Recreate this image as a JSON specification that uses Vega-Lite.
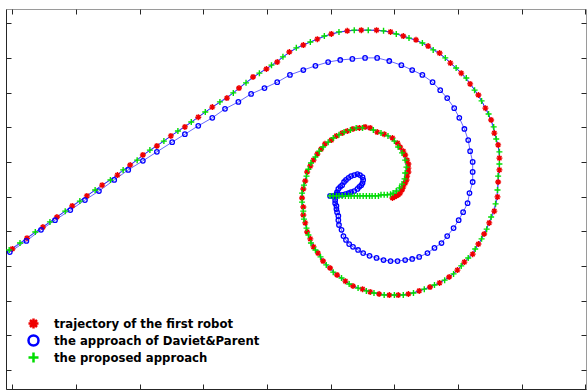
{
  "$schema": "https://vega.github.io/schema/vega-lite/v6.json",
  "width": 580,
  "height": 380,
  "autosize": {"type": "none"},
  "padding": {"left": 6, "top": 9, "right": 1, "bottom": 3},
  "background": "white",
  "config": {
    "view": {"stroke": "#9a9a9a", "strokeWidth": 1},
    "axis": {"labels": false, "grid": false, "tickSize": -5, "tickColor": "#262626", "tickWidth": 1, "domainColor": "#262626", "domainWidth": 1}
  },
  "data": {"values": [
    {"s":"r","i":1,"x":59.7,"y":49.6},{"s":"r","i":2,"x":60.0,"y":49.9},{"s":"r","i":3,"x":60.3,"y":50.2},{"s":"r","i":4,"x":60.6,"y":50.5},{"s":"r","i":5,"x":60.9,"y":51.0},{"s":"r","i":6,"x":61.2,"y":51.9},{"s":"r","i":7,"x":61.4,"y":52.8},{"s":"r","i":8,"x":61.7,"y":53.9},{"s":"r","i":9,"x":61.9,"y":54.8},{"s":"r","i":10,"x":62.0,"y":55.9},
    {"s":"r","i":11,"x":62.2,"y":57.1},{"s":"r","i":12,"x":62.2,"y":58.2},{"s":"r","i":13,"x":62.2,"y":59.4},{"s":"r","i":14,"x":62.0,"y":60.5},{"s":"r","i":15,"x":61.7,"y":62.0},{"s":"r","i":16,"x":61.4,"y":63.1},{"s":"r","i":17,"x":60.9,"y":64.3},{"s":"r","i":18,"x":60.5,"y":65.4},{"s":"r","i":19,"x":59.7,"y":66.9},{"s":"r","i":20,"x":58.4,"y":68.0},
    {"s":"r","i":21,"x":57.3,"y":68.6},{"s":"r","i":22,"x":56.2,"y":69.8},{"s":"r","i":23,"x":55.4,"y":70.1},{"s":"r","i":24,"x":54.5,"y":69.8},{"s":"r","i":25,"x":53.5,"y":69.5},{"s":"r","i":26,"x":52.6,"y":68.9},{"s":"r","i":27,"x":51.8,"y":68.3},{"s":"r","i":28,"x":50.9,"y":67.5},{"s":"r","i":29,"x":50.1,"y":66.3},{"s":"r","i":30,"x":49.1,"y":65.2},
    {"s":"r","i":31,"x":48.5,"y":63.7},{"s":"r","i":32,"x":47.9,"y":62.3},{"s":"r","i":33,"x":47.3,"y":60.5},{"s":"r","i":34,"x":46.8,"y":58.8},{"s":"r","i":35,"x":46.3,"y":57.1},{"s":"r","i":36,"x":46.0,"y":54.5},{"s":"r","i":37,"x":45.7,"y":52.2},{"s":"r","i":38,"x":45.5,"y":49.6},{"s":"r","i":39,"x":45.7,"y":47.0},{"s":"r","i":40,"x":45.7,"y":44.7},
    {"s":"r","i":41,"x":46.0,"y":42.4},{"s":"r","i":42,"x":46.3,"y":39.8},{"s":"r","i":43,"x":46.8,"y":37.8},{"s":"r","i":44,"x":47.3,"y":35.5},{"s":"r","i":45,"x":48.0,"y":33.7},{"s":"r","i":46,"x":48.8,"y":31.4},{"s":"r","i":47,"x":49.9,"y":29.4},{"s":"r","i":48,"x":51.0,"y":27.4},{"s":"r","i":49,"x":52.3,"y":25.6},{"s":"r","i":50,"x":53.5,"y":24.2},
    {"s":"r","i":51,"x":55.0,"y":23.3},{"s":"r","i":52,"x":56.2,"y":22.5},{"s":"r","i":53,"x":57.6,"y":21.9},{"s":"r","i":54,"x":59.2,"y":21.6},{"s":"r","i":55,"x":60.6,"y":21.6},{"s":"r","i":56,"x":62.2,"y":21.9},{"s":"r","i":57,"x":63.9,"y":22.8},{"s":"r","i":58,"x":65.6,"y":23.9},{"s":"r","i":59,"x":67.1,"y":25.1},{"s":"r","i":60,"x":68.6,"y":26.8},
    {"s":"r","i":61,"x":69.9,"y":28.8},{"s":"r","i":62,"x":71.0,"y":31.1},{"s":"r","i":63,"x":72.3,"y":33.4},{"s":"r","i":64,"x":73.2,"y":36.3},{"s":"r","i":65,"x":74.1,"y":39.2},{"s":"r","i":66,"x":74.9,"y":42.4},{"s":"r","i":67,"x":75.7,"y":45.8},{"s":"r","i":68,"x":76.2,"y":49.9},{"s":"r","i":69,"x":76.3,"y":54.2},{"s":"r","i":70,"x":76.5,"y":57.7},
    {"s":"r","i":71,"x":76.5,"y":61.1},{"s":"r","i":72,"x":76.3,"y":64.9},{"s":"r","i":73,"x":75.7,"y":68.3},{"s":"r","i":74,"x":75.2,"y":72.1},{"s":"r","i":75,"x":74.3,"y":75.5},{"s":"r","i":76,"x":73.2,"y":79.3},{"s":"r","i":77,"x":71.9,"y":82.5},{"s":"r","i":78,"x":70.5,"y":85.6},{"s":"r","i":79,"x":68.8,"y":88.5},{"s":"r","i":80,"x":67.1,"y":91.4},
    {"s":"r","i":81,"x":65.3,"y":93.4},{"s":"r","i":82,"x":63.4,"y":95.2},{"s":"r","i":83,"x":61.4,"y":96.3},{"s":"r","i":84,"x":59.4,"y":97.5},{"s":"r","i":85,"x":57.2,"y":98.0},{"s":"r","i":86,"x":54.8,"y":98.0},{"s":"r","i":87,"x":52.6,"y":97.8},{"s":"r","i":88,"x":50.1,"y":96.9},{"s":"r","i":89,"x":47.9,"y":95.4},{"s":"r","i":90,"x":45.7,"y":93.7},
    {"s":"r","i":91,"x":43.5,"y":91.7},{"s":"r","i":92,"x":41.6,"y":88.8},{"s":"r","i":93,"x":39.9,"y":86.8},{"s":"r","i":94,"x":37.8,"y":84.5},{"s":"r","i":95,"x":35.6,"y":81.3},{"s":"r","i":96,"x":33.7,"y":78.4},{"s":"r","i":97,"x":31.4,"y":75.8},{"s":"r","i":98,"x":29.2,"y":72.9},{"s":"r","i":99,"x":27.1,"y":70.1},{"s":"r","i":100,"x":24.9,"y":67.5},
    {"s":"r","i":101,"x":22.7,"y":64.6},{"s":"r","i":102,"x":20.5,"y":62.0},{"s":"r","i":103,"x":18.5,"y":59.1},{"s":"r","i":104,"x":16.5,"y":56.2},{"s":"r","i":105,"x":14.1,"y":53.3},{"s":"r","i":106,"x":11.7,"y":50.2},{"s":"r","i":107,"x":9.4,"y":47.3},{"s":"r","i":108,"x":7.0,"y":44.1},{"s":"r","i":109,"x":4.8,"y":41.2},{"s":"r","i":110,"x":2.3,"y":38.0},{"s":"r","i":111,"x":0.0,"y":34.9},

    {"s":"b","i":1,"x":49.9,"y":50.2},{"s":"b","i":2,"x":50.4,"y":50.2},{"s":"b","i":3,"x":50.9,"y":50.5},{"s":"b","i":4,"x":51.3,"y":50.5},{"s":"b","i":5,"x":51.8,"y":50.5},{"s":"b","i":6,"x":52.3,"y":50.7},{"s":"b","i":7,"x":52.8,"y":51.0},{"s":"b","i":8,"x":53.2,"y":51.3},{"s":"b","i":9,"x":53.7,"y":51.6},{"s":"b","i":10,"x":54.2,"y":52.2},
    {"s":"b","i":11,"x":54.5,"y":52.8},{"s":"b","i":12,"x":54.8,"y":53.3},{"s":"b","i":13,"x":55.0,"y":53.9},{"s":"b","i":14,"x":55.1,"y":54.8},{"s":"b","i":15,"x":55.0,"y":55.6},{"s":"b","i":16,"x":54.6,"y":56.2},{"s":"b","i":17,"x":54.2,"y":56.5},{"s":"b","i":18,"x":53.7,"y":56.2},{"s":"b","i":19,"x":53.2,"y":55.9},{"s":"b","i":20,"x":52.8,"y":55.4},
    {"s":"b","i":21,"x":52.4,"y":54.8},{"s":"b","i":22,"x":52.1,"y":54.2},{"s":"b","i":23,"x":51.8,"y":53.3},{"s":"b","i":24,"x":51.5,"y":52.8},{"s":"b","i":25,"x":51.2,"y":52.2},{"s":"b","i":26,"x":51.0,"y":51.3},{"s":"b","i":27,"x":50.9,"y":50.7},{"s":"b","i":28,"x":50.7,"y":49.9},{"s":"b","i":29,"x":50.7,"y":49.0},{"s":"b","i":30,"x":50.7,"y":48.1},
    {"s":"b","i":31,"x":50.9,"y":47.3},{"s":"b","i":32,"x":50.9,"y":46.4},{"s":"b","i":33,"x":51.0,"y":45.5},{"s":"b","i":34,"x":51.2,"y":44.4},{"s":"b","i":35,"x":51.2,"y":43.2},{"s":"b","i":36,"x":51.3,"y":41.8},{"s":"b","i":37,"x":51.7,"y":40.4},{"s":"b","i":38,"x":52.0,"y":38.6},{"s":"b","i":39,"x":52.4,"y":37.5},{"s":"b","i":40,"x":52.9,"y":36.3},
    {"s":"b","i":41,"x":53.5,"y":35.5},{"s":"b","i":42,"x":54.3,"y":34.6},{"s":"b","i":43,"x":55.1,"y":33.7},{"s":"b","i":44,"x":56.1,"y":32.9},{"s":"b","i":45,"x":57.2,"y":32.3},{"s":"b","i":46,"x":58.3,"y":31.7},{"s":"b","i":47,"x":59.4,"y":31.4},{"s":"b","i":48,"x":60.5,"y":31.4},{"s":"b","i":49,"x":61.7,"y":31.7},{"s":"b","i":50,"x":62.8,"y":32.0},
    {"s":"b","i":51,"x":63.9,"y":32.6},{"s":"b","i":52,"x":65.2,"y":33.7},{"s":"b","i":53,"x":66.3,"y":35.2},{"s":"b","i":54,"x":67.4,"y":36.6},{"s":"b","i":55,"x":68.3,"y":38.6},{"s":"b","i":56,"x":69.3,"y":40.9},{"s":"b","i":57,"x":70.1,"y":43.2},{"s":"b","i":58,"x":70.8,"y":45.5},{"s":"b","i":59,"x":71.5,"y":48.1},{"s":"b","i":60,"x":71.8,"y":51.0},
    {"s":"b","i":61,"x":72.3,"y":54.2},{"s":"b","i":62,"x":72.3,"y":57.1},{"s":"b","i":63,"x":72.3,"y":60.0},{"s":"b","i":64,"x":71.9,"y":63.1},{"s":"b","i":65,"x":71.6,"y":66.3},{"s":"b","i":66,"x":71.0,"y":69.5},{"s":"b","i":67,"x":70.2,"y":72.7},{"s":"b","i":68,"x":69.4,"y":75.5},{"s":"b","i":69,"x":68.3,"y":78.4},{"s":"b","i":70,"x":67.2,"y":80.7},
    {"s":"b","i":71,"x":66.0,"y":83.0},{"s":"b","i":72,"x":64.4,"y":85.1},{"s":"b","i":73,"x":62.8,"y":86.5},{"s":"b","i":74,"x":61.1,"y":87.9},{"s":"b","i":75,"x":59.2,"y":89.1},{"s":"b","i":76,"x":57.3,"y":90.0},{"s":"b","i":77,"x":55.4,"y":90.0},{"s":"b","i":78,"x":53.4,"y":89.7},{"s":"b","i":79,"x":51.5,"y":89.4},{"s":"b","i":80,"x":49.6,"y":88.8},
    {"s":"b","i":81,"x":47.6,"y":87.7},{"s":"b","i":82,"x":45.7,"y":86.5},{"s":"b","i":83,"x":43.6,"y":85.1},{"s":"b","i":84,"x":41.6,"y":83.0},{"s":"b","i":85,"x":39.6,"y":81.3},{"s":"b","i":86,"x":37.5,"y":79.6},{"s":"b","i":87,"x":35.5,"y":77.3},{"s":"b","i":88,"x":33.4,"y":75.3},{"s":"b","i":89,"x":31.4,"y":72.7},{"s":"b","i":90,"x":29.2,"y":70.4},
    {"s":"b","i":91,"x":27.1,"y":68.0},{"s":"b","i":92,"x":25.1,"y":65.7},{"s":"b","i":93,"x":22.7,"y":62.9},{"s":"b","i":94,"x":20.5,"y":60.3},{"s":"b","i":95,"x":18.2,"y":57.7},{"s":"b","i":96,"x":16.0,"y":54.8},{"s":"b","i":97,"x":13.6,"y":51.6},{"s":"b","i":98,"x":11.4,"y":49.0},{"s":"b","i":99,"x":9.1,"y":46.1},{"s":"b","i":100,"x":6.7,"y":43.2},
    {"s":"b","i":101,"x":4.5,"y":40.4},{"s":"b","i":102,"x":2.2,"y":37.2},{"s":"b","i":103,"x":-0.4,"y":34.0},

    {"s":"g","i":1,"x":49.9,"y":50.2},{"s":"g","i":2,"x":50.4,"y":50.2},{"s":"g","i":3,"x":50.9,"y":50.2},{"s":"g","i":4,"x":51.3,"y":50.2},{"s":"g","i":5,"x":51.8,"y":50.2},{"s":"g","i":6,"x":52.3,"y":50.2},{"s":"g","i":7,"x":52.8,"y":50.2},{"s":"g","i":8,"x":53.2,"y":50.2},{"s":"g","i":9,"x":53.7,"y":50.2},{"s":"g","i":10,"x":54.2,"y":50.2},
    {"s":"g","i":11,"x":54.6,"y":50.2},{"s":"g","i":12,"x":55.1,"y":50.2},{"s":"g","i":13,"x":55.6,"y":50.2},{"s":"g","i":14,"x":56.1,"y":50.2},{"s":"g","i":15,"x":56.5,"y":50.2},{"s":"g","i":16,"x":57.0,"y":50.2},{"s":"g","i":17,"x":57.5,"y":50.2},{"s":"g","i":18,"x":57.9,"y":50.5},{"s":"g","i":19,"x":58.4,"y":50.5},{"s":"g","i":20,"x":58.9,"y":50.5},
    {"s":"g","i":21,"x":59.4,"y":50.7},{"s":"g","i":22,"x":59.8,"y":51.0},{"s":"g","i":23,"x":60.3,"y":51.6},{"s":"g","i":24,"x":60.8,"y":52.5},{"s":"g","i":25,"x":61.2,"y":53.6},{"s":"g","i":26,"x":61.6,"y":55.1},{"s":"g","i":27,"x":61.7,"y":56.8},{"s":"g","i":28,"x":61.9,"y":58.5},{"s":"g","i":29,"x":61.7,"y":60.5},{"s":"g","i":30,"x":61.2,"y":62.6},
    {"s":"g","i":31,"x":60.6,"y":64.3},{"s":"g","i":32,"x":60.0,"y":66.0},{"s":"g","i":33,"x":59.0,"y":67.5},{"s":"g","i":34,"x":57.9,"y":68.3},{"s":"g","i":35,"x":56.7,"y":69.2},{"s":"g","i":36,"x":55.0,"y":69.8},{"s":"g","i":37,"x":54.0,"y":69.8},{"s":"g","i":38,"x":53.1,"y":69.2},{"s":"g","i":39,"x":52.1,"y":68.6},{"s":"g","i":40,"x":51.3,"y":67.8},
    {"s":"g","i":41,"x":50.4,"y":66.9},{"s":"g","i":42,"x":49.6,"y":65.7},{"s":"g","i":43,"x":48.8,"y":64.3},{"s":"g","i":44,"x":48.2,"y":63.1},{"s":"g","i":45,"x":47.6,"y":61.4},{"s":"g","i":46,"x":46.9,"y":59.7},{"s":"g","i":47,"x":46.5,"y":57.9},{"s":"g","i":48,"x":46.2,"y":55.9},{"s":"g","i":49,"x":45.8,"y":53.3},{"s":"g","i":50,"x":45.5,"y":51.0},
    {"s":"g","i":51,"x":45.5,"y":48.4},{"s":"g","i":52,"x":45.7,"y":45.8},{"s":"g","i":53,"x":45.8,"y":43.5},{"s":"g","i":54,"x":46.2,"y":40.9},{"s":"g","i":55,"x":46.5,"y":38.9},{"s":"g","i":56,"x":46.9,"y":36.6},{"s":"g","i":57,"x":47.6,"y":34.6},{"s":"g","i":58,"x":48.4,"y":32.6},{"s":"g","i":59,"x":49.3,"y":30.3},{"s":"g","i":60,"x":50.4,"y":28.2},
    {"s":"g","i":61,"x":51.7,"y":26.5},{"s":"g","i":62,"x":52.9,"y":24.8},{"s":"g","i":63,"x":54.3,"y":23.6},{"s":"g","i":64,"x":55.6,"y":22.8},{"s":"g","i":65,"x":56.8,"y":22.2},{"s":"g","i":66,"x":58.4,"y":21.6},{"s":"g","i":67,"x":60.0,"y":21.6},{"s":"g","i":68,"x":61.4,"y":21.6},{"s":"g","i":69,"x":63.0,"y":22.2},{"s":"g","i":70,"x":64.7,"y":23.3},
    {"s":"g","i":71,"x":66.3,"y":24.5},{"s":"g","i":72,"x":67.9,"y":25.9},{"s":"g","i":73,"x":69.3,"y":27.7},{"s":"g","i":74,"x":70.5,"y":30.0},{"s":"g","i":75,"x":71.6,"y":32.3},{"s":"g","i":76,"x":72.7,"y":34.9},{"s":"g","i":77,"x":73.7,"y":37.8},{"s":"g","i":78,"x":74.5,"y":40.6},{"s":"g","i":79,"x":75.2,"y":44.1},{"s":"g","i":80,"x":75.9,"y":47.9},
    {"s":"g","i":81,"x":76.2,"y":51.9},{"s":"g","i":82,"x":76.3,"y":55.9},{"s":"g","i":83,"x":76.5,"y":59.4},{"s":"g","i":84,"x":76.5,"y":62.9},{"s":"g","i":85,"x":76.0,"y":66.6},{"s":"g","i":86,"x":75.6,"y":70.1},{"s":"g","i":87,"x":74.8,"y":73.8},{"s":"g","i":88,"x":73.7,"y":77.6},{"s":"g","i":89,"x":72.6,"y":80.7},{"s":"g","i":90,"x":71.3,"y":84.2},
    {"s":"g","i":91,"x":69.7,"y":87.1},{"s":"g","i":92,"x":68.0,"y":90.0},{"s":"g","i":93,"x":66.1,"y":92.3},{"s":"g","i":94,"x":64.4,"y":94.3},{"s":"g","i":95,"x":62.3,"y":95.7},{"s":"g","i":96,"x":60.3,"y":96.9},{"s":"g","i":97,"x":58.3,"y":97.8},{"s":"g","i":98,"x":55.9,"y":98.0},{"s":"g","i":99,"x":53.7,"y":98.0},{"s":"g","i":100,"x":51.3,"y":97.5},
    {"s":"g","i":101,"x":49.0,"y":96.3},{"s":"g","i":102,"x":46.8,"y":94.6},{"s":"g","i":103,"x":44.6,"y":92.9},{"s":"g","i":104,"x":42.5,"y":90.3},{"s":"g","i":105,"x":40.7,"y":87.9},{"s":"g","i":106,"x":38.8,"y":85.6},{"s":"g","i":107,"x":36.7,"y":82.8},{"s":"g","i":108,"x":34.7,"y":79.9},{"s":"g","i":109,"x":32.6,"y":77.3},{"s":"g","i":110,"x":30.3,"y":74.4},
    {"s":"g","i":111,"x":28.1,"y":71.5},{"s":"g","i":112,"x":26.0,"y":68.9},{"s":"g","i":113,"x":23.8,"y":66.0},{"s":"g","i":114,"x":21.6,"y":63.4},{"s":"g","i":115,"x":19.6,"y":60.5},{"s":"g","i":116,"x":17.4,"y":57.7},{"s":"g","i":117,"x":15.4,"y":54.8},{"s":"g","i":118,"x":13.0,"y":51.9},{"s":"g","i":119,"x":10.6,"y":48.7},{"s":"g","i":120,"x":8.3,"y":45.8},
    {"s":"g","i":121,"x":5.9,"y":42.7},{"s":"g","i":122,"x":3.6,"y":39.8},{"s":"g","i":123,"x":1.2,"y":36.6},{"s":"g","i":124,"x":-0.5,"y":34.6}
  ]},
  "resolve": {"axis": {"x": "independent", "y": "independent"}},
  "layer": [
    {
      "mark": {"type": "line", "color": "#0000ff", "strokeWidth": 1, "opacity": 0.6},
      "encoding": {
        "x": {"field": "x", "type": "quantitative", "scale": {"domain": [-1, 90.1], "nice": false, "zero": false}, "axis": {"orient": "bottom", "title": null, "values": [0,10,20,30,40,50,60,70,80,90]}},
        "y": {"field": "y", "type": "quantitative", "scale": {"domain": [-5.5, 104.1], "nice": false, "zero": false}, "axis": {"orient": "left", "title": null, "values": [0,10,20,30,40,50,60,70,80,90,100]}},
        "detail": {"field": "s", "type": "nominal"},
        "order": {"field": "i", "type": "quantitative"}
      }
    },
    {
      "transform": [{"filter": "datum.s == 'r'"}],
      "mark": {"type": "point", "filled": false, "size": 36, "strokeWidth": 1.4, "opacity": 1},
      "encoding": {
        "x": {"field": "x", "type": "quantitative", "axis": {"orient": "top", "title": null, "domain": false, "values": [0,10,20,30,40,50,60,70,80,90]}},
        "y": {"field": "y", "type": "quantitative", "axis": {"orient": "right", "title": null, "domain": false, "values": [0,10,20,30,40,50,60,70,80,90,100]}},
        "color": {"field": "s", "type": "nominal", "scale": {"domain": ["r", "b", "g"], "range": ["#ee0000", "#0000ff", "#00dd00"]},
          "legend": {"title": null, "orient": "none", "legendX": 21, "legendY": 308, "padding": 0, "rowPadding": -4, "labelOffset": 14, "labelLimit": 0, "labelFont": "DejaVu Sans", "labelFontSize": 11.7, "labelFontWeight": "bold", "labelColor": "#000000", "symbolSize": 100, "symbolStrokeWidth": 2.5, "symbolFillColor": "transparent",
            "labelExpr": "datum.label == 'r' ? 'trajectory of the first robot' : datum.label == 'b' ? 'the approach of Daviet&Parent' : 'the proposed approach'"}},
        "shape": {"field": "s", "type": "nominal", "scale": {"domain": ["r", "b", "g"], "range": ["M-1,0L1,0M0,-1L0,1M-0.7,-0.7L0.7,0.7M-0.7,0.7L0.7,-0.7", "circle", "M-1,0L1,0M0,-1L0,1"]},
          "legend": {"title": null, "orient": "none", "legendX": 21, "legendY": 308, "padding": 0, "rowPadding": -4, "labelOffset": 14, "labelLimit": 0, "labelFont": "DejaVu Sans", "labelFontSize": 11.7, "labelFontWeight": "bold", "labelColor": "#000000", "symbolSize": 100, "symbolStrokeWidth": 2.5, "symbolFillColor": "transparent",
            "labelExpr": "datum.label == 'r' ? 'trajectory of the first robot' : datum.label == 'b' ? 'the approach of Daviet&Parent' : 'the proposed approach'"}}
      }
    },
    {
      "transform": [{"filter": "datum.s == 'b'"}],
      "mark": {"type": "point", "filled": false, "size": 20, "strokeWidth": 1.3, "opacity": 1},
      "encoding": {
        "x": {"field": "x", "type": "quantitative", "axis": null},
        "y": {"field": "y", "type": "quantitative", "axis": null},
        "color": {"field": "s", "type": "nominal"},
        "shape": {"field": "s", "type": "nominal"}
      }
    },
    {
      "transform": [{"filter": "datum.s == 'g'"}],
      "mark": {"type": "point", "filled": false, "size": 36, "strokeWidth": 1.4, "opacity": 1},
      "encoding": {
        "x": {"field": "x", "type": "quantitative", "axis": null},
        "y": {"field": "y", "type": "quantitative", "axis": null},
        "color": {"field": "s", "type": "nominal"},
        "shape": {"field": "s", "type": "nominal"}
      }
    }
  ]
}
